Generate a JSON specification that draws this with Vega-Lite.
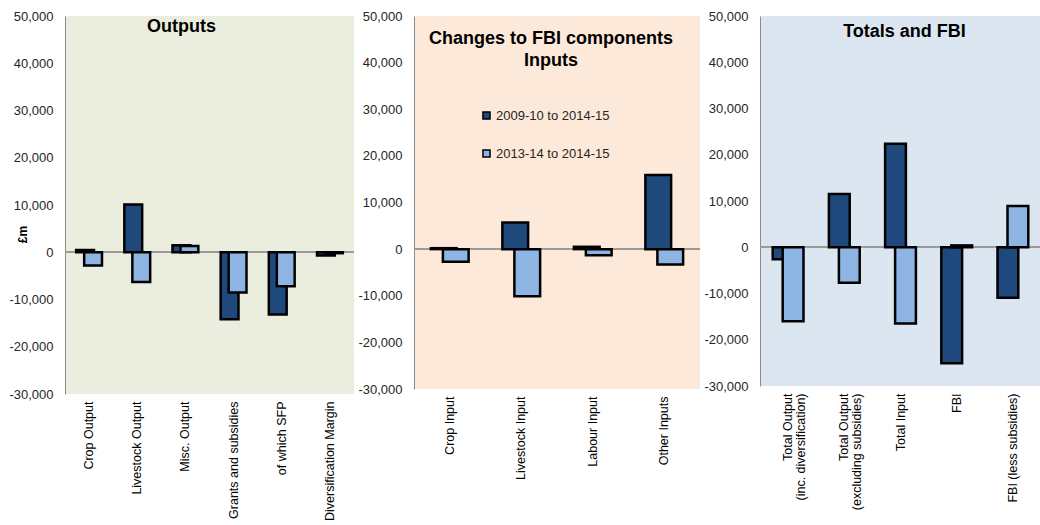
{
  "$schema": "https://vega.github.io/schema/vega-lite/v6.json",
  "padding": {"left": 8, "top": 10, "right": 0, "bottom": 0},
  "background": "white",
  "align": "none",
  "bounds": "flush",
  "spacing": 60,
  "config": {
    "font": "Liberation Sans",
    "view": {"stroke": null},
    "axisY": {
      "grid": false, "ticks": false, "labelFontSize": 13, "labelColor": "#262626",
      "labelPadding": 12, "domainColor": "#8c8c8c", "domainWidth": 1, "title": null
    },
    "axisX": {
      "grid": false, "ticks": false, "domain": false, "labelAngle": -90, "labelFontSize": 12.5,
      "labelColor": "black", "labelPadding": 7, "labelLimit": 0, "title": null
    },
    "title": {"fontSize": 18, "fontWeight": "bold", "color": "black", "anchor": "middle", "frame": "group", "baseline": "alphabetic"}
  },
  "resolve": {"legend": {"fill": "independent"}},
  "datasets": {
    "outputs": [
      {"component": "Crop Output", "period": "2009-10 to 2014-15", "value": 500},
      {"component": "Crop Output", "period": "2013-14 to 2014-15", "value": -2800},
      {"component": "Livestock Output", "period": "2009-10 to 2014-15", "value": 10100},
      {"component": "Livestock Output", "period": "2013-14 to 2014-15", "value": -6300},
      {"component": "Misc. Output", "period": "2009-10 to 2014-15", "value": 1500},
      {"component": "Misc. Output", "period": "2013-14 to 2014-15", "value": 1300},
      {"component": "Grants and subsidies", "period": "2009-10 to 2014-15", "value": -14200},
      {"component": "Grants and subsidies", "period": "2013-14 to 2014-15", "value": -8500},
      {"component": "of which SFP", "period": "2009-10 to 2014-15", "value": -13200},
      {"component": "of which SFP", "period": "2013-14 to 2014-15", "value": -7200},
      {"component": "Diversification Margin", "period": "2009-10 to 2014-15", "value": -700},
      {"component": "Diversification Margin", "period": "2013-14 to 2014-15", "value": -200}
    ],
    "inputs": [
      {"component": "Crop Input", "period": "2009-10 to 2014-15", "value": 200},
      {"component": "Crop Input", "period": "2013-14 to 2014-15", "value": -2700},
      {"component": "Livestock Input", "period": "2009-10 to 2014-15", "value": 5700},
      {"component": "Livestock Input", "period": "2013-14 to 2014-15", "value": -10100},
      {"component": "Labour Input", "period": "2009-10 to 2014-15", "value": 500},
      {"component": "Labour Input", "period": "2013-14 to 2014-15", "value": -1300},
      {"component": "Other Inputs", "period": "2009-10 to 2014-15", "value": 15900},
      {"component": "Other Inputs", "period": "2013-14 to 2014-15", "value": -3300}
    ],
    "totals": [
      {"component": "Total Output (inc. diversification)", "period": "2009-10 to 2014-15", "value": -2600},
      {"component": "Total Output (inc. diversification)", "period": "2013-14 to 2014-15", "value": -16000},
      {"component": "Total Output (excluding subsidies)", "period": "2009-10 to 2014-15", "value": 11500},
      {"component": "Total Output (excluding subsidies)", "period": "2013-14 to 2014-15", "value": -7700},
      {"component": "Total Input", "period": "2009-10 to 2014-15", "value": 22400},
      {"component": "Total Input", "period": "2013-14 to 2014-15", "value": -16500},
      {"component": "FBI", "period": "2009-10 to 2014-15", "value": -25100},
      {"component": "FBI", "period": "2013-14 to 2014-15", "value": 400},
      {"component": "FBI (less subsidies)", "period": "2009-10 to 2014-15", "value": -10900},
      {"component": "FBI (less subsidies)", "period": "2013-14 to 2014-15", "value": 8900}
    ]
  },
  "hconcat": [
    {
      "width": 289, "height": 378,
      "view": {"fill": "#EBEEDE", "stroke": null},
      "title": {"text": "Outputs", "offset": -26, "dx": -28},
      "data": {"name": "outputs"},
      "encoding": {
        "x": {"field": "component", "type": "nominal", "sort": null, "scale": {"paddingInner": 0, "paddingOuter": 0}},
        "y": {"field": "value", "type": "quantitative", "scale": {"domain": [-30000, 50000], "nice": false},
              "axis": {"values": [-30000, -20000, -10000, 0, 10000, 20000, 30000, 40000, 50000], "labelExpr": "replace(format(datum.value, ','), '\u2212', '-')",
                       "title": "£m", "titleFontSize": 12, "titleFontWeight": "bold", "titleColor": "black", "titleAngle": -90, "titleX": -43, "titleY": 218, "titleAlign": "center", "titleBaseline": "middle"}}
      },
      "layer": [
        {"mark": {"type": "rule", "color": "#9a9a9a", "strokeWidth": 1.5}, "encoding": {"x": {"value": 0}, "x2": {"value": "width"}, "y": {"datum": 0}}},
        {"transform": [{"filter": "datum.period == '2009-10 to 2014-15'"}],
         "mark": {"type": "bar", "width": {"band": 0.37}, "xOffset": -4, "stroke": "black", "strokeWidth": 2.5},
         "encoding": {"fill": {"field": "period", "type": "nominal", "scale": {"domain": ["2009-10 to 2014-15", "2013-14 to 2014-15"], "range": ["#1F497D", "#8EB4E3"]}, "legend": null}}},
        {"transform": [{"filter": "datum.period == '2013-14 to 2014-15'"}],
         "mark": {"type": "bar", "width": {"band": 0.37}, "xOffset": 4, "stroke": "black", "strokeWidth": 2.5},
         "encoding": {"fill": {"field": "period", "type": "nominal", "scale": {"domain": ["2009-10 to 2014-15", "2013-14 to 2014-15"], "range": ["#1F497D", "#8EB4E3"]}, "legend": null}}}
      ]
    },
    {
      "width": 286, "height": 373,
      "view": {"fill": "#FDE9D9", "stroke": null},
      "title": {"text": ["Changes to FBI components", "Inputs"], "offset": -60, "dx": -6, "lineHeight": 22},
      "data": {"name": "inputs"},
      "encoding": {
        "x": {"field": "component", "type": "nominal", "sort": null, "scale": {"paddingInner": 0, "paddingOuter": 0}},
        "y": {"field": "value", "type": "quantitative", "scale": {"domain": [-30000, 50000], "nice": false},
              "axis": {"values": [-30000, -20000, -10000, 0, 10000, 20000, 30000, 40000, 50000], "labelExpr": "replace(format(datum.value, ','), '\u2212', '-')"}}
      },
      "layer": [
        {"mark": {"type": "rule", "color": "#9a9a9a", "strokeWidth": 1.5}, "encoding": {"x": {"value": 0}, "x2": {"value": "width"}, "y": {"datum": 0}}},
        {"transform": [{"filter": "datum.period == '2009-10 to 2014-15'"}],
         "mark": {"type": "bar", "width": {"band": 0.36}, "xOffset": -6, "stroke": "black", "strokeWidth": 2.5},
         "encoding": {"fill": {"field": "period", "type": "nominal", "scale": {"domain": ["2009-10 to 2014-15", "2013-14 to 2014-15"], "range": ["#1F497D", "#8EB4E3"]},
           "legend": {"title": null, "orient": "none", "legendX": 66, "legendY": 93, "padding": 0, "symbolType": "square", "symbolSize": 50, "symbolStrokeColor": "black", "symbolStrokeWidth": 1.5, "labelFontSize": 13, "labelColor": "#262626", "labelOffset": 3, "rowPadding": 23}}}},
        {"transform": [{"filter": "datum.period == '2013-14 to 2014-15'"}],
         "mark": {"type": "bar", "width": {"band": 0.36}, "xOffset": 6, "stroke": "black", "strokeWidth": 2.5},
         "encoding": {"fill": {"field": "period", "type": "nominal", "scale": {"domain": ["2009-10 to 2014-15", "2013-14 to 2014-15"], "range": ["#1F497D", "#8EB4E3"]}}}}
      ]
    },
    {
      "width": 281, "height": 370,
      "view": {"fill": "#DCE6F1", "stroke": null},
      "title": {"text": "Totals and FBI", "offset": -31, "dx": 4},
      "data": {"name": "totals"},
      "encoding": {
        "x": {"field": "component", "type": "nominal", "sort": null, "scale": {"paddingInner": 0, "paddingOuter": 0},
              "axis": {"labelExpr": "test(/^Total Output/, datum.label) ? [slice(datum.label, 0, 12), slice(datum.label, 13)] : datum.label", "labelLineHeight": 13}},
        "y": {"field": "value", "type": "quantitative", "scale": {"domain": [-30000, 50000], "nice": false},
              "axis": {"values": [-30000, -20000, -10000, 0, 10000, 20000, 30000, 40000, 50000], "labelExpr": "replace(format(datum.value, ','), '\u2212', '-')"}}
      },
      "layer": [
        {"mark": {"type": "rule", "color": "#9a9a9a", "strokeWidth": 1.5}, "encoding": {"x": {"value": 0}, "x2": {"value": "width"}, "y": {"datum": 0}}},
        {"transform": [{"filter": "datum.period == '2009-10 to 2014-15'"}],
         "mark": {"type": "bar", "width": {"band": 0.37}, "xOffset": -5, "stroke": "black", "strokeWidth": 2.5},
         "encoding": {"fill": {"field": "period", "type": "nominal", "scale": {"domain": ["2009-10 to 2014-15", "2013-14 to 2014-15"], "range": ["#1F497D", "#8EB4E3"]}, "legend": null}}},
        {"transform": [{"filter": "datum.period == '2013-14 to 2014-15'"}],
         "mark": {"type": "bar", "width": {"band": 0.37}, "xOffset": 5, "stroke": "black", "strokeWidth": 2.5},
         "encoding": {"fill": {"field": "period", "type": "nominal", "scale": {"domain": ["2009-10 to 2014-15", "2013-14 to 2014-15"], "range": ["#1F497D", "#8EB4E3"]}, "legend": null}}}
      ]
    }
  ]
}
